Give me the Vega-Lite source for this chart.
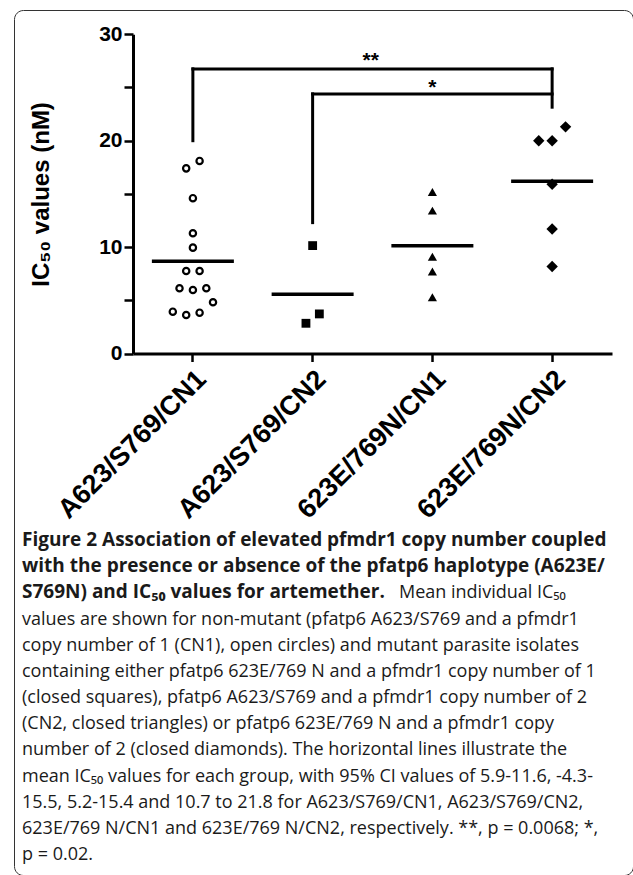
{
  "$schema": "https://vega.github.io/schema/vega-lite/v6.json",
  "width": 619,
  "height": 865,
  "autosize": {"type": "none"},
  "padding": {"left": 14, "top": 10, "right": 0, "bottom": 0},
  "background": "white",
  "config": {
    "view": {"stroke": "#333333", "strokeWidth": 1, "cornerRadius": 9},
    "font": "Liberation Sans",
    "axis": {"domainColor": "black", "tickColor": "black", "labelColor": "black", "titleColor": "black", "grid": false}
  },
  "datasets": {
    "obs": [
      {"group": "A623/S769/CN1", "value": 17.4, "slot": -0.5},
      {"group": "A623/S769/CN1", "value": 18.1, "slot": 0.5},
      {"group": "A623/S769/CN1", "value": 14.6, "slot": 0},
      {"group": "A623/S769/CN1", "value": 11.3, "slot": 0},
      {"group": "A623/S769/CN1", "value": 9.95, "slot": 0},
      {"group": "A623/S769/CN1", "value": 7.75, "slot": -0.5},
      {"group": "A623/S769/CN1", "value": 7.75, "slot": 0.5},
      {"group": "A623/S769/CN1", "value": 6.13, "slot": -1},
      {"group": "A623/S769/CN1", "value": 5.97, "slot": 0},
      {"group": "A623/S769/CN1", "value": 6.13, "slot": 1},
      {"group": "A623/S769/CN1", "value": 4.82, "slot": 1.5},
      {"group": "A623/S769/CN1", "value": 3.93, "slot": -1.5},
      {"group": "A623/S769/CN1", "value": 3.62, "slot": -0.5},
      {"group": "A623/S769/CN1", "value": 3.84, "slot": 0.5},
      {"group": "A623/S769/CN2", "value": 10.14, "slot": 0},
      {"group": "A623/S769/CN2", "value": 3.72, "slot": 0.5},
      {"group": "A623/S769/CN2", "value": 2.84, "slot": -0.5},
      {"group": "623E/769N/CN1", "value": 15.17, "slot": 0},
      {"group": "623E/769N/CN1", "value": 13.43, "slot": 0},
      {"group": "623E/769N/CN1", "value": 9.1, "slot": 0},
      {"group": "623E/769N/CN1", "value": 7.7, "slot": 0},
      {"group": "623E/769N/CN1", "value": 5.29, "slot": 0},
      {"group": "623E/769N/CN2", "value": 20.0, "slot": -1},
      {"group": "623E/769N/CN2", "value": 20.0, "slot": 0},
      {"group": "623E/769N/CN2", "value": 21.3, "slot": 1},
      {"group": "623E/769N/CN2", "value": 15.9, "slot": 0},
      {"group": "623E/769N/CN2", "value": 11.7, "slot": 0},
      {"group": "623E/769N/CN2", "value": 8.17, "slot": 0}
    ],
    "brackets": [
      {"from": "A623/S769/CN1", "to": "A623/S769/CN1", "y1": 20.0, "y2": 26.75},
      {"from": "A623/S769/CN1", "to": "623E/769N/CN2", "y1": 26.75, "y2": 26.75},
      {"from": "623E/769N/CN2", "to": "623E/769N/CN2", "y1": 23.15, "y2": 26.75},
      {"from": "A623/S769/CN2", "to": "A623/S769/CN2", "y1": 12.3, "y2": 24.4},
      {"from": "A623/S769/CN2", "to": "623E/769N/CN2", "y1": 24.4, "y2": 24.4}
    ],
    "stars2": [{"at": "A623/S769/CN2", "y": 26.95, "label": "**"}],
    "stars1": [{"at": "623E/769N/CN1", "y": 24.4, "label": "*"}],
    "heading": [
      {"line": 1, "text": "Figure 2 Association of elevated pfmdr1 copy number coupled"},
      {"line": 2, "text": "with the presence or absence of the pfatp6 haplotype (A623E/"},
      {"line": 3, "text": "S769N) and IC₅₀ values for artemether."}
    ],
    "runin": [
      {"line": 3, "text": "Mean individual IC₅₀"}
    ],
    "body": [
      {"line": 4, "text": "values are shown for non-mutant (pfatp6 A623/S769 and a pfmdr1"},
      {"line": 5, "text": "copy number of 1 (CN1), open circles) and mutant parasite isolates"},
      {"line": 6, "text": "containing either pfatp6 623E/769 N and a pfmdr1 copy number of 1"},
      {"line": 7, "text": "(closed squares), pfatp6 A623/S769 and a pfmdr1 copy number of 2"},
      {"line": 8, "text": "(CN2, closed triangles) or pfatp6 623E/769 N and a pfmdr1 copy"},
      {"line": 9, "text": "number of 2 (closed diamonds). The horizontal lines illustrate the"},
      {"line": 10, "text": "mean IC₅₀ values for each group, with 95% CI values of 5.9-11.6, -4.3-"},
      {"line": 11, "text": "15.5, 5.2-15.4 and 10.7 to 21.8 for A623/S769/CN1, A623/S769/CN2,"},
      {"line": 12, "text": "623E/769 N/CN1 and 623E/769 N/CN2, respectively. **, p = 0.0068; *,"},
      {"line": 13, "text": "p = 0.02."}
    ]
  },
  "layer": [
    {
      "layer": [
        {
          "data": {"name": "obs"},
          "transform": [{"filter": "datum.group === 'A623/S769/CN1'"}],
          "mark": {"type": "point", "shape": "circle", "filled": false, "stroke": "black", "strokeWidth": 2.2, "size": 40, "opacity": 1},
          "encoding": {
            "x": {
              "field": "group", "type": "nominal",
              "scale": {"type": "band", "domain": ["A623/S769/CN1", "A623/S769/CN2", "623E/769N/CN1", "623E/769N/CN2"], "range": [119, 598], "paddingInner": 0, "paddingOuter": 0},
              "axis": {"title": null, "offset": -521.5, "labelAngle": -45, "labelFontSize": 27, "labelFontWeight": "bold", "labelLimit": 0, "tickSize": 8, "tickWidth": 2.5, "domainWidth": 3, "labelPadding": 4, "labelOverlap": false}
            },
            "xOffset": {"field": "slot", "type": "quantitative", "scale": {"domain": [-1, 1], "range": [46.5, 73.3]}},
            "y": {
              "field": "value", "type": "quantitative",
              "scale": {"domain": [0, 30], "range": [343.5, 24.3], "nice": false},
              "axis": {"title": "IC₅₀ values (nM)", "values": [0, 5, 10, 15, 20, 25, 30], "labelExpr": "datum.value % 10 === 0 ? datum.label : ''", "offset": -119, "tickSize": 9, "tickWidth": 2.5, "domainWidth": 3, "labelFontSize": 21, "labelFontWeight": "bold", "labelPadding": 2, "titleFontSize": 24, "titleFontWeight": "bold", "titlePadding": 45}
            }
          }
        },
        {
          "data": {"name": "obs"},
          "transform": [{"filter": "datum.group === 'A623/S769/CN2'"}],
          "mark": {"type": "point", "shape": "square", "filled": true, "color": "black", "size": 78, "opacity": 1},
          "encoding": {
            "x": {"field": "group", "type": "nominal"},
            "xOffset": {"field": "slot", "type": "quantitative", "scale": {"domain": [-1, 1], "range": [46.5, 73.3]}},
            "y": {"field": "value", "type": "quantitative"}
          }
        },
        {
          "data": {"name": "obs"},
          "transform": [{"filter": "datum.group === '623E/769N/CN1'"}],
          "mark": {"type": "point", "shape": "triangle-up", "filled": true, "color": "black", "size": 84, "opacity": 1},
          "encoding": {
            "x": {"field": "group", "type": "nominal"},
            "xOffset": {"field": "slot", "type": "quantitative", "scale": {"domain": [-1, 1], "range": [46.5, 73.3]}},
            "y": {"field": "value", "type": "quantitative"}
          }
        },
        {
          "data": {"name": "obs"},
          "transform": [{"filter": "datum.group === '623E/769N/CN2'"}],
          "mark": {"type": "point", "shape": "diamond", "filled": true, "color": "black", "size": 130, "opacity": 1},
          "encoding": {
            "x": {"field": "group", "type": "nominal"},
            "xOffset": {"field": "slot", "type": "quantitative", "scale": {"domain": [-1, 1], "range": [46.5, 73.3]}},
            "y": {"field": "value", "type": "quantitative"}
          }
        },
        {
          "data": {"name": "obs"},
          "mark": {"type": "tick", "orient": "horizontal", "size": 82, "thickness": 3.5, "color": "black", "opacity": 1},
          "encoding": {
            "x": {"field": "group", "type": "nominal"},
            "y": {"aggregate": "mean", "field": "value", "type": "quantitative"}
          }
        },
        {
          "data": {"name": "brackets"},
          "mark": {"type": "rule", "color": "black", "strokeWidth": 3, "strokeCap": "square"},
          "encoding": {
            "x": {"field": "from", "type": "nominal"},
            "x2": {"field": "to"},
            "y": {"field": "y1", "type": "quantitative"},
            "y2": {"field": "y2"}
          }
        },
        {
          "data": {"name": "stars2"},
          "mark": {"type": "text", "fontSize": 21, "fontWeight": "bold", "color": "black", "baseline": "alphabetic", "dx": 58},
          "encoding": {
            "x": {"field": "at", "type": "nominal"},
            "y": {"field": "y", "type": "quantitative"},
            "text": {"field": "label"}
          }
        },
        {
          "data": {"name": "stars1"},
          "mark": {"type": "text", "fontSize": 21, "fontWeight": "bold", "color": "black", "baseline": "alphabetic"},
          "encoding": {
            "x": {"field": "at", "type": "nominal"},
            "y": {"field": "y", "type": "quantitative"},
            "text": {"field": "label"}
          }
        }
      ]
    },
    {
      "layer": [
        {
          "data": {"name": "heading"},
          "mark": {"type": "text", "align": "left", "baseline": "alphabetic", "font": "Open Sans", "fontWeight": "bold", "fontSize": 19, "color": "#1a1a1a", "x": 8},
          "encoding": {
            "y": {"field": "line", "type": "quantitative", "scale": {"domain": [1, 13], "range": [536, 850]}, "axis": null},
            "text": {"field": "text"}
          }
        },
        {
          "data": {"name": "runin"},
          "mark": {"type": "text", "align": "left", "baseline": "alphabetic", "font": "Open Sans", "fontSize": 18, "color": "#1a1a1a", "x": 385},
          "encoding": {
            "y": {"field": "line", "type": "quantitative"},
            "text": {"field": "text"}
          }
        },
        {
          "data": {"name": "body"},
          "mark": {"type": "text", "align": "left", "baseline": "alphabetic", "font": "Open Sans", "fontSize": 18, "color": "#1a1a1a", "x": 8},
          "encoding": {
            "y": {"field": "line", "type": "quantitative"},
            "text": {"field": "text"}
          }
        }
      ]
    }
  ],
  "resolve": {"scale": {"y": "independent"}}
}
